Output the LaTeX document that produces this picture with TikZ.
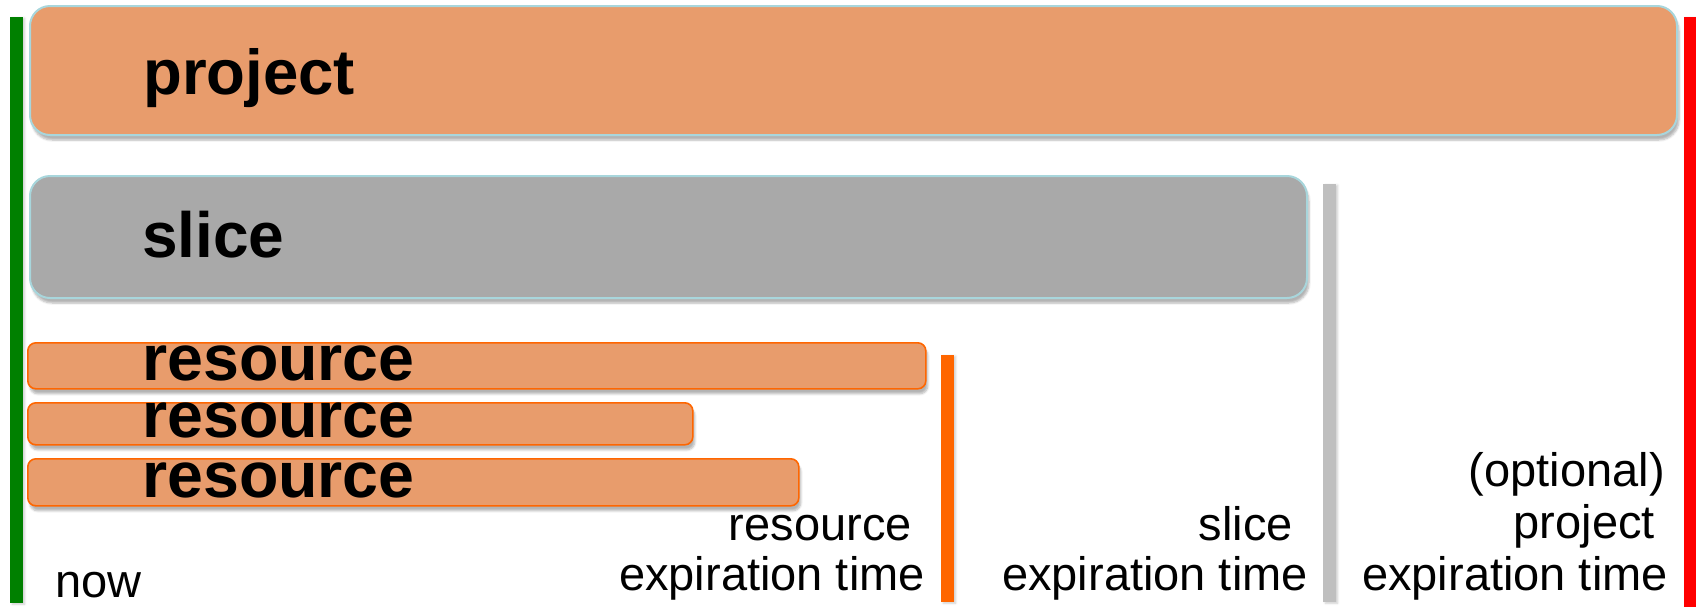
\documentclass[tikz,border=0pt]{standalone}
\usepackage{fontspec}
\setmainfont{Liberation Sans}
\usetikzlibrary{shadows.blur}
\definecolor{boxorange}{RGB}{232,156,108}
\definecolor{slicegray}{RGB}{169,169,169}
\definecolor{boxedge}{RGB}{168,214,220}
\definecolor{resedge}{RGB}{255,102,0}
\definecolor{nowgreen}{RGB}{0,128,0}
\definecolor{barorange}{RGB}{255,102,0}
\definecolor{bargray}{RGB}{191,191,191}
\definecolor{barred}{RGB}{255,0,0}
\tikzset{
  bigbox/.style={rectangle, rounded corners=20pt, draw=boxedge, line width=2pt,
    anchor=north west, inner sep=0pt,
    blur shadow={shadow xshift=2pt, shadow yshift=-5pt, shadow blur steps=6, shadow opacity=30}},
  resbox/.style={rectangle, rounded corners=8pt, fill=boxorange, draw=resedge, line width=1.6pt,
    anchor=north west, inner sep=0pt, minimum height=45pt,
    blur shadow={shadow xshift=2pt, shadow yshift=-5pt, shadow blur steps=6, shadow opacity=30}},
  timebar/.style={rectangle, anchor=north west, inner sep=0pt, minimum width=12.5pt,
    blur shadow={shadow xshift=2pt, shadow yshift=-1pt, shadow blur steps=4, shadow opacity=20}},
  boldlbl/.style={anchor=base west, inner sep=0pt, font=\fontsize{64.5}{70}\selectfont\bfseries},
  timelbl/.style={anchor=base east, inner sep=0pt, font=\fontsize{47}{52}\selectfont},
}
\begin{document}
\begin{tikzpicture}[x=1pt,y=-1pt]
\useasboundingbox (0,0) rectangle (1696,606);
% time bars
\node[timebar, fill=nowgreen, minimum height=586pt] (nowbar) at (10,17) {};
\node[timebar, fill=barred, minimum height=590pt] (projbar) at (1683.5,17) {};
\node[timebar, fill=barorange, minimum height=247pt] (resbar) at (941,355) {};
\node[timebar, fill=bargray, minimum height=418pt] (slicebar) at (1323,184) {};
% boxes
\node[bigbox, fill=boxorange, minimum width=1647pt, minimum height=129pt] (projbox) at (29,5) {};
\node[bigbox, fill=slicegray, minimum width=1277pt, minimum height=122pt] (slicebox) at (29,175) {};
\node[resbox, minimum width=898pt, minimum height=46pt] (res1) at (27,342) {};
\node[resbox, minimum width=665pt, minimum height=42pt] (res2) at (27,402) {};
\node[resbox, minimum width=771pt, minimum height=47pt] (res3) at (27,458) {};
% box labels
\node[boldlbl, font=\fontsize{63.5}{70}\selectfont\bfseries] (projtxt) at (143,94) {project};
\node[boldlbl, font=\fontsize{64}{70}\selectfont\bfseries] (slicetxt) at (142,257) {slice};
\node[boldlbl] (res1txt) at (142,380) {resource};
\node[boldlbl] (res2txt) at (142,437) {resource};
\node[boldlbl] (res3txt) at (142,497) {resource};
% time labels
\node[timelbl, anchor=base west] (nowtxt) at (55,597) {now};
\node[timelbl] (resexpa) at (912,540) {resource};
\node[timelbl] (resexpb) at (925,590) {expiration time};
\node[timelbl] (sliceexpa) at (1293,540) {slice};
\node[timelbl] (sliceexpb) at (1308,590) {expiration time};
\node[timelbl] (projexpa) at (1665,486) {(optional)};
\node[timelbl] (projexpb) at (1655,538) {project};
\node[timelbl] (projexpc) at (1668,590) {expiration time};
\end{tikzpicture}
\end{document}
